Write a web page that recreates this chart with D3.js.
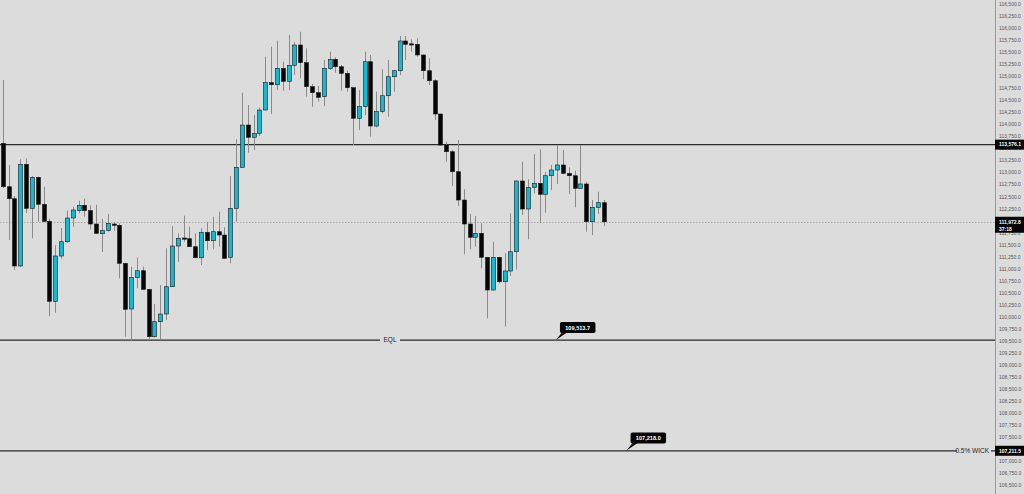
<!DOCTYPE html>
<html><head><meta charset="utf-8">
<script src="https://cdn.jsdelivr.net/npm/d3@7"></script>
<style>html,body{margin:0;padding:0;background:#dcdcdc;overflow:hidden}svg{display:block}</style>
</head><body><svg id="c" width="1024" height="494"></svg>
<script>
const opens=[113604,112701,112452,111053,113167,112252,112897,112336,111982,110319,111261,111558,112051,112203,112315,112203,111926,111724,111787,111926,111899,111109,110159,110810,110955,110568,109583,109895,110055,110622,111469,111635,111620,111454,111225,111754,111579,111766,111697,111234,112252,113105,113984,113729,113812,114296,114864,114822,115163,114893,115225,115647,115280,114781,114656,114573,115163,115350,115196,115059,114760,114124,114365,115300,113963,114261,114593,114988,115113,115731,115672,115662,115440,115113,114905,114213,113568,113429,113013,112425,111926,111650,111733,111234,110554,111234,110726,110949,111350,112820,112238,112689,112772,112543,112930,113049,113153,112980,112930,112668,112758,111974,112273,112369];
const highs=[114920,113153,112508,113271,113292,112924,112914,112701,112036,111483,111843,112203,112286,112410,112452,112315,112327,112036,112134,111968,111941,111115,111038,111230,111038,110575,110263,110658,111421,111884,111733,112099,111870,111733,111837,111974,112078,112182,111857,112924,113687,114656,114400,114192,114352,115404,115612,115737,115300,115855,115704,115924,115579,114837,114795,115336,115508,115392,115232,115113,114764,114712,115508,115440,114677,115142,115336,115128,115835,115835,115766,115787,115440,115371,114934,114213,113637,113465,113672,112647,112134,112092,111941,111240,111558,111240,111317,112148,112830,113221,112855,113381,113479,113007,113153,113568,113465,113105,113034,113568,112805,112425,112598,112425];
const lows=[112674,111593,110970,111038,112155,111629,111974,111968,110013,110082,111205,111531,111870,112148,112078,111816,111718,111344,111766,111787,110797,109583,109500,110589,110564,109514,109566,109514,109930,110616,111142,111558,111448,111219,111074,111385,111400,111454,111209,111109,111974,113101,113408,113465,113756,114286,114213,114712,114697,114712,115024,114955,114573,114365,114469,114379,115128,115072,114697,114677,113568,113880,114192,113741,113936,114228,114157,114677,115024,115336,115508,115404,114934,114816,114088,113558,113221,112716,112300,111296,111400,111454,111005,109966,110543,110693,109791,110845,110984,112113,111608,112564,111941,112161,112633,112758,112966,112550,112273,112664,111766,111697,112134,111884];
const closes=[112701,112452,111053,113167,112252,112897,112336,111982,110319,111261,111558,112051,112217,112315,112203,111926,111733,111787,111941,111899,111109,110153,110810,110955,110568,109583,109895,110055,110622,111469,111629,111620,111454,111225,111754,111579,111766,111697,111213,112252,113105,113984,113729,113812,114296,114864,114822,115163,114893,115225,115647,115280,114781,114656,114560,115163,115350,115196,115059,114760,114124,114365,115300,113963,114261,114593,114988,115113,115731,115662,115662,115440,115113,114905,114213,113568,113429,113013,112425,111926,111650,111733,111234,110554,111234,110726,110949,111350,112820,112238,112689,112772,112543,112930,113049,113153,112980,112930,112668,112758,111974,112273,112369,111973];
const tickValues=d3.range(106500,116501,250);
const resistanceLevel=113576.1, eqlLevel=109513.7, wickLevel=107211.5, lastPrice=111972.8;
const countdown="37:18";
const calloutValues=[109513.7,107218.0];
const calloutIndex=[94.8,106.9];

const W=1024,H=494,AX=995;
const svg=d3.select("#c");
const y=d3.scaleLinear().domain([106500,116500]).range([485,4]);
const x=d3.scaleLinear().domain([0,103]).range([2.7,603.8]);
const fmt=d3.format(",.1f");
const font="'Liberation Sans', Arial, sans-serif";

svg.append("rect").attr("width",W).attr("height",H).attr("fill","#dcdcdc");

// last price dotted
svg.append("line").attr("x1",0).attr("x2",AX).attr("y1",Math.round(y(lastPrice))+0.5).attr("y2",Math.round(y(lastPrice))+0.5)
  .attr("stroke","#9a9a9a").attr("stroke-width",0.8).attr("stroke-dasharray","1.5,1.5");

// horizontal levels
[resistanceLevel,eqlLevel,wickLevel].forEach(v=>{
  svg.append("line").attr("x1",0).attr("x2",AX).attr("y1",y(v)).attr("y2",y(v))
    .attr("stroke","#2a2a2a").attr("stroke-width",1.3);
});

// candles
const data=opens.map((o,i)=>({i,o,h:highs[i],l:lows[i],c:closes[i]}));
const g=svg.append("g");
g.selectAll("line.w").data(data).enter().append("line")
  .attr("x1",d=>Math.round(x(d.i))+0.5).attr("x2",d=>Math.round(x(d.i))+0.5)
  .attr("y1",d=>y(d.h)).attr("y2",d=>y(d.l)).attr("stroke","#8a8a8a").attr("stroke-width",1);
g.selectAll("rect.b").data(data).enter().append("rect")
  .attr("x",d=>Math.round(x(d.i))-1.5).attr("width",4)
  .attr("y",d=>y(Math.max(d.o,d.c)))
  .attr("height",d=>Math.max(1.2,Math.abs(y(d.o)-y(d.c))))
  .attr("fill",d=>d.c>=d.o?"#12b9d2":"#050505")
  .attr("stroke","#1a1a1a").attr("stroke-width",0.6);

// EQL label
const eqlX=390;
svg.append("rect").attr("x",eqlX-10).attr("y",y(eqlLevel)-4).attr("width",20).attr("height",8).attr("fill","#dcdcdc");
svg.append("text").attr("x",eqlX).attr("y",y(eqlLevel)+2.2).attr("text-anchor","middle")
  .attr("font-family",font).attr("font-size",6.5).attr("fill","#222").text("EQL");

// 0.5% WICK label
svg.append("rect").attr("x",957).attr("y",y(wickLevel)-4).attr("width",34).attr("height",8).attr("fill","#dcdcdc");
svg.append("text").attr("x",989).attr("y",y(wickLevel)+2.2).attr("text-anchor","end")
  .attr("font-family",font).attr("font-size",6.5).attr("fill","#222").text("0.5% WICK");

// callouts
calloutValues.forEach((v,k)=>{
  const px=x(calloutIndex[k]), py=y(v);
  const bx=px+4, by=py-18, bw=35.5, bh=11;
  svg.append("path").attr("d",`M${px},${py} L${bx+2},${by+bh-0.5} L${bx+7},${by+bh-0.5} Z`).attr("fill","#050505");
  svg.append("rect").attr("x",bx).attr("y",by).attr("width",bw).attr("height",bh).attr("rx",1.8).attr("fill","#050505");
  svg.append("text").attr("x",bx+bw/2).attr("y",by+7.6).attr("text-anchor","middle")
    .attr("font-family",font).attr("font-weight","bold").attr("font-size",5.6).attr("fill","#fff").text(fmt(v));
});

// right axis
svg.append("line").attr("x1",AX+0.5).attr("x2",AX+0.5).attr("y1",0).attr("y2",H).attr("stroke","#9a9a9a").attr("stroke-width",1);
const axis=d3.axisRight(y).tickValues(tickValues).tickFormat(fmt).tickSize(0).tickPadding(4);
const ag=svg.append("g").attr("transform",`translate(${AX},0)`).call(axis);
ag.select(".domain").remove();
ag.selectAll("text").attr("font-family",font).attr("font-size",5).attr("fill","#555");

// axis price boxes
function priceBox(v,lines){
  const cy=y(v);
  const h=lines.length>1?16:10;
  const top=cy-5;
  svg.append("rect").attr("x",AX).attr("y",top).attr("width",W-AX).attr("height",h).attr("fill","#050505");
  lines.forEach((t,j)=>{
    svg.append("text").attr("x",AX+4).attr("y",top+6.8+j*7).attr("font-family",font).attr("font-weight","bold")
      .attr("font-size",5).attr("fill","#fff").text(t);
  });
}
priceBox(resistanceLevel,[fmt(resistanceLevel)]);
priceBox(lastPrice,[fmt(lastPrice),countdown]);
priceBox(wickLevel,[fmt(wickLevel)]);
</script></body></html>
